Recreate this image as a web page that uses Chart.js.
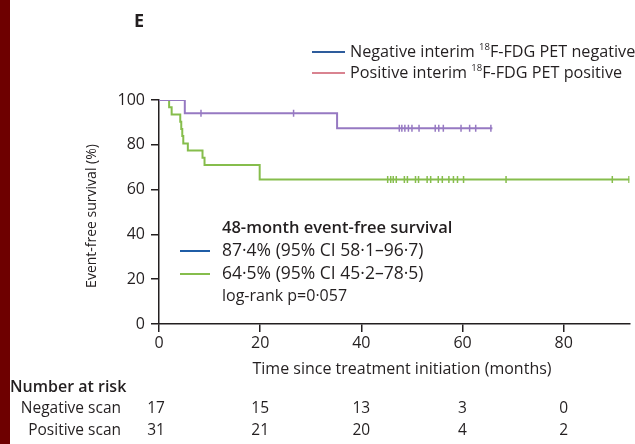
<!DOCTYPE html>
<html>
<head>
<meta charset="utf-8">
<title>Event-free survival by interim 18F-FDG PET</title>
<script src="https://cdn.jsdelivr.net/npm/chart.js@4/dist/chart.umd.min.js"></script>
<style>
  html, body { margin: 0; padding: 0; background: #fff; }
  #wrap { position: relative; width: 635px; height: 444px; }
  canvas { display: block; }
</style>
</head>
<body>
<div id="wrap"><canvas id="km" width="635" height="444"></canvas></div>
<script>
// Axis ticks
const xTickValues = [0, 20, 40, 60, 80];
const yTickValues = [0, 20, 40, 60, 80, 100];

// 48-month event-free survival estimates (%) and their confidence intervals
const eventFree48 = [87.4, 64.5];
const ciLow = [58.1, 45.2];
const ciHigh = [96.7, 78.5];
const logRankP = '0·057';

// Negative interim scan: step times (months) and survival (%)
const negTimes = [0, 5.1, 35.2, 65.9];
const negSurv = [100, 94.1, eventFree48[0], eventFree48[0]];
const negCensor = [8.3, 26.6, 47.5, 48.0, 48.6, 49.3, 50.0, 51.4, 54.6, 55.3, 56.2, 59.7, 61.4, 62.6, 65.6];

// Positive interim scan: step times (months) and survival (%)
const posTimes = [0, 2.0, 2.5, 4.2, 4.4, 4.6, 4.8, 5.7, 8.6, 9.0, 19.9, 93];
const posSurv = [100, 96.8, 93.5, 90.3, 87.1, 83.9, 80.6, 77.4, 74.2, 71.0, eventFree48[1], eventFree48[1]];
const posCensor = [45.2, 45.8, 46.3, 46.9, 48.5, 49.1, 50.7, 51.3, 53.0, 53.7, 55.2, 56.0, 57.3, 58.2, 59.0, 60.2, 68.6, 89.6, 92.9];

// Number at risk table
const riskTimes = [0, 20, 40, 60, 80];
const riskNegative = [17, 15, 13, 3, 0];
const riskPositive = [31, 21, 20, 4, 2];
const riskRowLabels = ['Negative scan', 'Positive scan'];

// Text
const panelLetter = 'E';
const legendRows = [
  ['Negative interim ', '18', 'F-FDG PET negative'],
  ['Positive interim ', '18', 'F-FDG PET positive']
];
const summaryTitle = '48-month event-free survival';
const xTitle = 'Time since treatment initiation (months)';
const yTitle = 'Event-free survival (%)';
const riskTitle = 'Number at risk';

const COL_NEG = '#9679c2';
const COL_POS = '#86bd4c';
const INK = '#231f20';
const FONT = '"Open Sans", "Liberation Sans", sans-serif';

const dot = v => v.toFixed(1).replace('.', '·');
const summaryLines = eventFree48.map((v, i) =>
  `${dot(v)}% (95% CI ${dot(ciLow[i])}–${dot(ciHigh[i])})`);

function toPoints(ts, ys) { return ts.map((t, i) => ({ x: t, y: ys[i] })); }
function survivalAt(ts, ys, t) {
  let v = ys[0];
  for (let i = 0; i < ts.length; i++) if (ts[i] <= t) v = ys[i];
  return v;
}
function censorPoints(cs, ts, ys) { return cs.map(t => ({ x: t, y: survivalAt(ts, ys, t) })); }

const decorations = {
  id: 'decorations',
  beforeDraw(chart) {
    const c = chart.ctx;
    c.save();
    c.fillStyle = '#6e0000';
    c.fillRect(0, 0, 10, chart.height);
    c.restore();
  },
  afterDraw(chart) {
    const c = chart.ctx;
    const xs = chart.scales.x, ys = chart.scales.y;
    c.save();
    c.fillStyle = INK;
    c.textBaseline = 'middle';

    // panel letter
    c.font = `bold 18px ${FONT}`;
    c.textAlign = 'left';
    c.fillText(panelLetter, 134, 22);

    // top legend
    const legendColors = ['#2e5c9c', '#d98390'];
    legendRows.forEach((row, i) => {
      const y = 52 + i * 21;
      c.strokeStyle = legendColors[i];
      c.lineWidth = 2;
      c.beginPath(); c.moveTo(312, y); c.lineTo(345, y); c.stroke();
      let x = 350;
      c.font = `16.2px ${FONT}`;
      c.fillText(row[0], x, y); x += c.measureText(row[0]).width;
      c.font = `9.5px ${FONT}`;
      c.fillText(row[1], x, y - 5); x += c.measureText(row[1]).width;
      c.font = `16.2px ${FONT}`;
      c.fillText(row[2], x, y);
    });

    // 48-month summary
    c.font = `600 16.5px ${FONT}`;
    c.fillText(summaryTitle, 222, 228);
    c.font = `17.5px ${FONT}`;
    const lineCols = ['#1f5da6', COL_POS];
    summaryLines.forEach((s, i) => {
      const y = 251 + i * 23;
      c.strokeStyle = lineCols[i];
      c.lineWidth = 2;
      c.beginPath(); c.moveTo(180, y); c.lineTo(210, y); c.stroke();
      c.fillText(s, 222, y);
    });
    c.font = `16px ${FONT}`;
    c.fillText('log-rank p=' + logRankP, 222, 296);

    // axis titles
    c.textAlign = 'center';
    c.font = `16px ${FONT}`;
    c.fillText(xTitle, 402, 369);
    c.save();
    c.translate(92, 216);
    c.rotate(-Math.PI / 2);
    c.font = `14px ${FONT}`;
    c.fillText(yTitle, 0, 0);
    c.restore();

    // number at risk
    c.textAlign = 'left';
    c.font = `600 16px ${FONT}`;
    c.fillText(riskTitle, 10, 387);
    c.font = `15.5px ${FONT}`;
    c.textAlign = 'right';
    riskRowLabels.forEach((lab, i) => c.fillText(lab, 121, 409 + i * 22));
    c.textAlign = 'center';
    [riskNegative, riskPositive].forEach((row, i) => {
      row.forEach((n, j) => c.fillText(String(n), xs.getPixelForValue(riskTimes[j]) - (j === 0 ? 3 : 0), 409 + i * 22));
    });
    c.restore();
  }
};

new Chart(document.getElementById('km'), {
  type: 'line',
  data: {
    datasets: [
      { data: toPoints(negTimes, negSurv), borderColor: COL_NEG, borderWidth: 2, stepped: true, pointRadius: 0, fill: false },
      { data: toPoints(posTimes, posSurv), borderColor: COL_POS, borderWidth: 2, stepped: true, pointRadius: 0, fill: false },
      { type: 'scatter', data: censorPoints(negCensor, negTimes, negSurv), borderColor: COL_NEG, backgroundColor: COL_NEG,
        pointStyle: 'line', rotation: 90, pointRadius: 3.5, borderWidth: 1.5, showLine: false },
      { type: 'scatter', data: censorPoints(posCensor, posTimes, posSurv), borderColor: COL_POS, backgroundColor: COL_POS,
        pointStyle: 'line', rotation: 90, pointRadius: 3.5, borderWidth: 1.5, showLine: false }
    ]
  },
  options: {
    responsive: false,
    animation: false,
    events: [],
    layout: { padding: { top: 100, left: 0, right: 0, bottom: 0 } },
    plugins: { legend: { display: false }, tooltip: { enabled: false } },
    scales: {
      x: {
        type: 'linear', min: 0, max: 93,
        afterFit(s) { s.height = 120; },
        afterBuildTicks(s) { s.ticks = xTickValues.map(v => ({ value: v })); },
        grid: { drawOnChartArea: false, drawTicks: true, tickLength: 8, color: INK, lineWidth: 1.5 },
        border: { display: true, color: INK, width: 1.5 },
        ticks: { color: INK, padding: 2, maxRotation: 0, font: { family: FONT, size: 16 } }
      },
      y: {
        type: 'linear', min: 0, max: 100,
        afterFit(s) { s.width = 159; },
        afterBuildTicks(s) { s.ticks = yTickValues.map(v => ({ value: v })); },
        grid: { drawOnChartArea: false, drawTicks: true, tickLength: 8, color: INK, lineWidth: 1.5 },
        border: { display: true, color: INK, width: 1.5 },
        ticks: { color: INK, padding: 6, font: { family: FONT, size: 16 } }
      }
    }
  },
  plugins: [decorations]
});
</script>
</body>
</html>
